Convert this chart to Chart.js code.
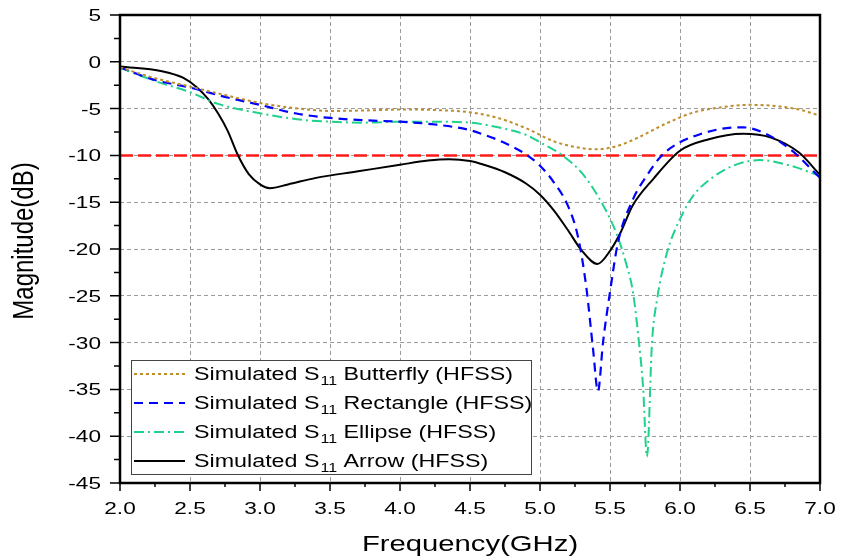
<!DOCTYPE html>
<html>
<head>
<meta charset="utf-8">
<script src="https://cdn.jsdelivr.net/npm/chart.js@4.4.0/dist/chart.umd.min.js"></script>
<style>
  html, body { margin: 0; padding: 0; background: #fff; }
</style>
</head>
<body>
<canvas id="chart" width="841" height="558"></canvas>
<script>
// S11 curves (GHz, dB)
const butterflyFreq = [2.0, 2.25, 2.5, 2.75, 3.0, 3.25, 3.5, 3.75, 4.0, 4.25, 4.5, 4.7, 4.9, 5.1, 5.25, 5.4, 5.55, 5.7, 5.9, 6.1, 6.3, 6.5, 6.7, 6.85, 7.0];
const butterflyMag  = [-0.6, -1.75, -2.65, -3.55, -4.4, -4.95, -5.25, -5.2, -5.1, -5.15, -5.4, -6.0, -7.1, -8.5, -9.1, -9.35, -9.0, -8.1, -6.6, -5.4, -4.85, -4.6, -4.75, -5.1, -5.75];

const rectFreq = [2.0, 2.25, 2.5, 2.75, 3.0, 3.25, 3.5, 3.75, 4.0, 4.25, 4.5, 4.6, 4.7, 4.8, 4.9, 5.0, 5.1, 5.2, 5.27, 5.33, 5.379, 5.414, 5.45, 5.5, 5.557, 5.664, 5.77, 5.87, 6.0, 6.15, 6.3, 6.45, 6.6, 6.8, 7.0];
const rectMag  = [-0.6, -1.95, -2.75, -3.75, -4.6, -5.5, -6.0, -6.25, -6.4, -6.7, -7.3, -7.8, -8.35, -9.05, -9.9, -11.1, -12.9, -15.4, -18.6, -24.0, -30.7, -35.2, -30.0, -24.6, -19.3, -14.7, -12.0, -10.0, -8.6, -7.7, -7.15, -7.0, -7.6, -9.5, -12.4];

const ellipseFreq = [2.0, 2.25, 2.5, 2.7, 3.0, 3.3, 3.5, 3.75, 4.0, 4.25, 4.5, 4.7, 4.9, 5.0, 5.15, 5.3, 5.45, 5.55, 5.62, 5.664, 5.707, 5.736, 5.764, 5.8, 5.836, 5.907, 6.0, 6.1, 6.22, 6.38, 6.57, 6.79, 7.0];
const ellipseMag  = [-0.65, -2.05, -3.25, -4.5, -5.5, -6.2, -6.4, -6.5, -6.4, -6.4, -6.5, -7.0, -7.8, -8.6, -9.9, -11.9, -15.3, -18.5, -21.8, -24.6, -30.0, -34.7, -42.2, -30.0, -25.4, -20.4, -16.8, -14.2, -12.5, -11.1, -10.5, -11.1, -12.2];

const arrowFreq = [2.0, 2.3, 2.45, 2.55, 2.63, 2.7, 2.77, 2.84, 2.92, 3.0, 3.07, 3.2, 3.4, 3.7, 4.0, 4.2, 4.35, 4.5, 4.6, 4.75, 4.9, 5.0, 5.1, 5.2, 5.3, 5.41, 5.5, 5.58, 5.66, 5.81, 6.0, 6.2, 6.45, 6.65, 6.85, 7.0];
const arrowMag  = [-0.5, -1.0, -1.7, -2.75, -4.0, -5.5, -7.4, -9.9, -12.0, -13.1, -13.5, -13.1, -12.4, -11.7, -11.0, -10.55, -10.4, -10.6, -11.0, -11.8, -13.0, -14.2, -15.9, -18.0, -20.2, -21.6, -20.2, -18.1, -15.4, -12.5, -9.5, -8.3, -7.7, -8.1, -9.7, -12.1];

const thresholdDb = -10;

const xTicks = [2.0, 2.5, 3.0, 3.5, 4.0, 4.5, 5.0, 5.5, 6.0, 6.5, 7.0];
const xTickLabels = ['2.0', '2.5', '3.0', '3.5', '4.0', '4.5', '5.0', '5.5', '6.0', '6.5', '7.0'];
const yTicks = [5, 0, -5, -10, -15, -20, -25, -30, -35, -40, -45];
const yTickLabels = ['5', '0', '-5', '-10', '-15', '-20', '-25', '-30', '-35', '-40', '-45'];

const seriesNames = ['Butterfly', 'Rectangle', 'Ellipse', 'Arrow'];
const xTitle = 'Frequency(GHz)';
const yTitle = 'Magnitude(dB)';

const colors = {
  butterfly: '#BE8C28',
  rectangle: '#0000FF',
  ellipse: '#1ED28C',
  arrow: '#000000',
  threshold: '#FF1A1A',
  grid: '#9B9B9B'
};

const FONT = "'Liberation Sans', Arial, sans-serif";
const STRETCH = 1.33;   // the reference text is drawn wide

function pairs(xs, ys) {
  return xs.map((x, i) => ({ x, y: ys[i] }));
}

// draw text widened horizontally, returns drawn width
function wideText(ctx, text, x, y, size, align) {
  ctx.save();
  ctx.font = size + 'px ' + FONT;
  ctx.textBaseline = 'alphabetic';
  ctx.textAlign = align || 'left';
  ctx.translate(x, y);
  ctx.scale(STRETCH, 1);
  ctx.fillText(text, 0, 0);
  const w = ctx.measureText(text).width * STRETCH;
  ctx.restore();
  return w;
}

const lineStyles = [
  { color: colors.butterfly, width: 2, dash: [3, 3] },
  { color: colors.rectangle, width: 2.2, dash: [9, 6] },
  { color: colors.ellipse, width: 2, dash: [10, 4, 2, 4] },
  { color: colors.arrow, width: 2, dash: [] }
];

const framePlugin = {
  id: 'frame',
  afterDraw(chart) {
    const { ctx, chartArea: a, scales: { x, y } } = chart;
    ctx.save();
    ctx.fillStyle = '#000';
    ctx.strokeStyle = '#000';

    // tick marks (major + minor)
    ctx.lineWidth = 1.5;
    ctx.beginPath();
    yTicks.forEach(v => {
      const py = y.getPixelForValue(v);
      ctx.moveTo(a.left - 10, py); ctx.lineTo(a.left, py);
      if (v > -45) {
        const pm = y.getPixelForValue(v - 2.5);
        ctx.moveTo(a.left - 6, pm); ctx.lineTo(a.left, pm);
      }
    });
    xTicks.forEach(v => {
      const px = x.getPixelForValue(v);
      ctx.moveTo(px, a.bottom); ctx.lineTo(px, a.bottom + 8);
      if (v < 7) {
        const pm = x.getPixelForValue(v + 0.25);
        ctx.moveTo(pm, a.bottom); ctx.lineTo(pm, a.bottom + 4);
      }
    });
    ctx.stroke();

    // box
    ctx.lineWidth = 2.5;
    ctx.strokeRect(a.left, a.top, a.right - a.left, a.bottom - a.top);

    // tick labels
    yTicks.forEach((v, i) => {
      wideText(ctx, yTickLabels[i], a.left - 19, y.getPixelForValue(v) + 6, 17, 'right');
    });
    xTicks.forEach((v, i) => {
      wideText(ctx, xTickLabels[i], x.getPixelForValue(v), a.bottom + 31, 17, 'center');
    });

    // axis titles
    wideText(ctx, xTitle, (a.left + a.right) / 2, 551, 22, 'center');
    ctx.save();
    ctx.font = '24px ' + FONT;
    ctx.textAlign = 'center';
    ctx.textBaseline = 'alphabetic';
    ctx.translate(33, 241);
    ctx.rotate(-Math.PI / 2);
    ctx.scale(1, 1.25);
    ctx.fillText(yTitle, 0, 0);
    ctx.restore();

    // legend
    const lx = a.left + 11, ly = 360, lw = 400, lh = 114;
    ctx.fillStyle = '#fff';
    ctx.fillRect(lx, ly, lw, lh);
    ctx.lineWidth = 1;
    ctx.strokeStyle = '#444';
    ctx.strokeRect(lx + 0.5, ly + 0.5, lw, lh);
    seriesNames.forEach((name, i) => {
      const st = lineStyles[i];
      const rowY = ly + 14 + i * 29;
      ctx.save();
      ctx.strokeStyle = st.color;
      ctx.lineWidth = st.width;
      ctx.setLineDash(st.dash);
      ctx.beginPath();
      ctx.moveTo(lx + 3, rowY);
      ctx.lineTo(lx + 54, rowY);
      ctx.stroke();
      ctx.restore();
      ctx.fillStyle = '#000';
      let tx = lx + 63;
      const by = rowY + 6;
      tx += wideText(ctx, 'Simulated S', tx, by, 17.5, 'left');
      tx += wideText(ctx, '11', tx + 1, by + 5, 12, 'left') + 1;
      wideText(ctx, ' ' + name + ' (HFSS)', tx, by, 17.5, 'left');
    });
    ctx.restore();
  }
};

const datasets = [
  { label: 'Butterfly', data: pairs(butterflyFreq, butterflyMag) },
  { label: 'Rectangle', data: pairs(rectFreq, rectMag) },
  { label: 'Ellipse', data: pairs(ellipseFreq, ellipseMag) },
  { label: 'Arrow', data: pairs(arrowFreq, arrowMag) }
].map((d, i) => Object.assign(d, {
  borderColor: lineStyles[i].color,
  borderWidth: lineStyles[i].width,
  borderDash: lineStyles[i].dash,
  pointRadius: 0,
  fill: false,
  cubicInterpolationMode: 'monotone'
}));

datasets.push({
  label: '-10 dB',
  data: [{ x: xTicks[0], y: thresholdDb }, { x: xTicks[xTicks.length - 1], y: thresholdDb }],
  borderColor: colors.threshold,
  borderWidth: 2.5,
  borderDash: [13, 5],
  pointRadius: 0,
  fill: false
});

const ctx = document.getElementById('chart').getContext('2d');
new Chart(ctx, {
  type: 'line',
  data: { datasets },
  options: {
    responsive: false,
    animation: false,
    devicePixelRatio: 1,
    layout: { padding: { top: 15, right: 21, left: 0, bottom: 0 } },
    scales: {
      x: {
        type: 'linear',
        min: 2,
        max: 7,
        ticks: { stepSize: 0.5, display: false },
        grid: { color: colors.grid, lineWidth: 1, drawTicks: false, borderDash: [4, 3] },
        border: { display: false, dash: [4, 3] },
        afterFit: (s) => { s.height = 75; }
      },
      y: {
        min: -45,
        max: 5,
        ticks: { stepSize: 5, display: false },
        grid: { color: colors.grid, lineWidth: 1, drawTicks: false, borderDash: [4, 3] },
        border: { display: false, dash: [4, 3] },
        afterFit: (s) => { s.width = 120; }
      }
    },
    plugins: {
      legend: { display: false },
      tooltip: { enabled: false }
    }
  },
  plugins: [framePlugin]
});
</script>
</body>
</html>
